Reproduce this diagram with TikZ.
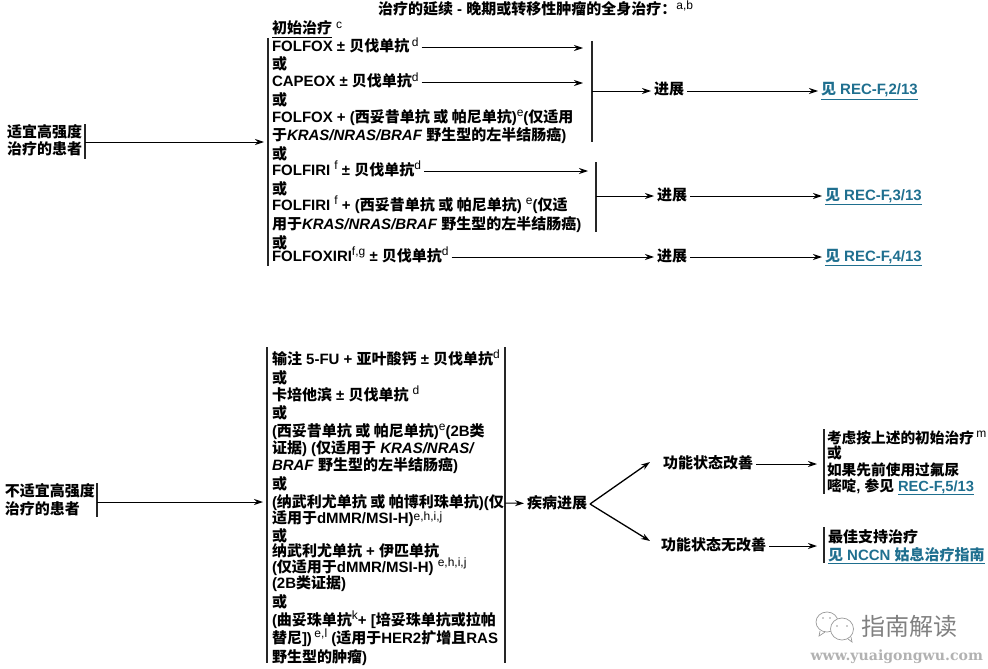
\documentclass[tikz,border=0pt]{standalone}
\usepackage{fontspec}
\setmainfont{Liberation Sans}
\newfontfamily\cjk{Noto Sans CJK SC}
\newfontfamily\wwwfont{DejaVu Serif}
\usetikzlibrary{positioning,arrows.meta}
\definecolor{linkblue}{HTML}{1F6F8F}
\newcommand{\zh}[1]{{\cjk #1}}
\newcommand{\sups}[2][5.5pt]{\raisebox{#1}{\fontsize{12}{12}\selectfont\mdseries #2}}
\newcommand{\reflink}[1]{\textcolor{linkblue}{\underline{#1}}}

\begin{document}
\begin{tikzpicture}[
  x=1pt, y=-1pt,
  txt/.style={inner sep=0pt, outer sep=3pt, anchor=base west, text height=11pt, text depth=3pt,
              font=\fontsize{15}{16}\selectfont\bfseries},
  bar/.style={draw=black!85, line width=1.2pt},
  line width=1pt,
  >={Stealth[length=9pt,width=6pt]}
]
  \useasboundingbox (0,0) rectangle (988,669);

  \node[txt] (title) at (375,15) {\zh{治疗的延续} - \zh{晚期或转移性肿瘤的全身治疗：}\sups{a,b}};
  \node[txt] (first) at (269,34) {\underline{\zh{初始治疗}} \sups{c}};

  % left column of the upper block
  \foreach \y/\ltext [count=\i] in {
    52/{FOLFOX ± \zh{贝伐单抗}\,\sups{d}},
    70/{\zh{或}},
    87/{CAPEOX ± \zh{贝伐单抗}\sups{d}},
    105/{\zh{或}},
    122/{FOLFOX + (\zh{西妥昔单抗 或 帕尼单抗})\sups{e}(\zh{仅适用}},
    140/{\zh{于}\textit{KRAS/NRAS/BRAF} \zh{野生型的左半结肠癌})},
    159/{\zh{或}},
    175/{FOLFIRI \sups{f} ± \zh{贝伐单抗}\sups{d}},
    194/{\zh{或}},
    210/{FOLFIRI \sups{f} + (\zh{西妥昔单抗 或 帕尼单抗}) \sups{e}(\zh{仅适}},
    229/{\zh{用于}\textit{KRAS/NRAS/BRAF} \zh{野生型的左半结肠癌})},
    248/{\zh{或}},
    261/{FOLFOXIRI\sups{f,g} ± \zh{贝伐单抗}\sups{d}}
  } \node[txt] (up\i) at (269,\y) {\ltext};

  % left column of the lower block
  \foreach \y/\ltext [count=\i] in {
    364/{\zh{输注} 5-FU + \zh{亚叶酸钙} ± \zh{贝伐单抗}\sups{d}},
    383/{\zh{或}},
    400/{\zh{卡培他滨} ± \zh{贝伐单抗} \sups{d}},
    418/{\zh{或}},
    436/{(\zh{西妥昔单抗 或 帕尼单抗})\sups{e}(2B\zh{类}},
    453/{\zh{证据}) (\zh{仅适用于} \textit{KRAS/NRAS/}},
    470/{\textit{BRAF} \zh{野生型的左半结肠癌})},
    489/{\zh{或}},
    507/{(\zh{纳武利尤单抗 或 帕博利珠单抗})(\zh{仅}},
    523/{\zh{适用于}dMMR/MSI-H)\sups[3pt]{e,h,i,j}},
    541/{\zh{或}},
    556/{\zh{纳武利尤单抗} + \zh{伊匹单抗}},
    572/{(\zh{仅适用于}dMMR/MSI-H) \sups{e,h,i,j}},
    588/{(2B\zh{类证据})},
    607/{\zh{或}},
    625/{(\zh{曲妥珠单抗}\sups{k}+ [\zh{培妥珠单抗或拉帕}},
    643/{\zh{替尼}])\,\sups{e,l} (\zh{适用于}HER2\zh{扩增且}RAS},
    662/{\zh{野生型的肿瘤})}
  } \node[txt] (lo\i) at (269,\y) {\ltext};

  % patients
  \node[txt] (fit1) at (4,137) {\zh{适宜高强度}};
  \node[txt] (fit2) at (4,154) {\zh{治疗的患者}};
  \node[txt] (unfit1) at (2,496) {\zh{不适宜高强度}};
  \node[txt] (unfit2) at (2,514) {\zh{治疗的患者}};

  % brackets
  \coordinate (fitT) at (85,124);   \coordinate (fitB) at (85,159);   \coordinate (fitM) at (85,142);
  \coordinate (unfitT) at (97,483); \coordinate (unfitB) at (97,517); \coordinate (unfitM) at (97,502);
  \coordinate (upT) at (268,38);    \coordinate (upB) at (268,266);   \coordinate (upM) at (264,142);
  \coordinate (loT) at (267,347);   \coordinate (loB) at (267,663);   \coordinate (loM) at (263,502);
  \coordinate (rgtT) at (505,347);  \coordinate (rgtB) at (505,663);  \coordinate (rgtM) at (505,503);
  \coordinate (g1T) at (592,41);    \coordinate (g1B) at (592,142);   \coordinate (g1M) at (592,91);
  \coordinate (g2T) at (596,162);   \coordinate (g2B) at (596,232);   \coordinate (g2M) at (596,196);
  \foreach \a/\b in {fitT/fitB, unfitT/unfitB, upT/upB, loT/loB, rgtT/rgtB, g1T/g1B, g2T/g2B}
    \draw[bar] (\a) -- (\b);
  \draw[->] (fitM) -- (upM);
  \draw[->] (unfitM) -- (loM);

  % upper block outcomes
  \node[txt] (prog1) at (651,95) {\zh{进展}};
  \node[txt] (prog2) at (654,200) {\zh{进展}};
  \node[txt] (prog3) at (654,261) {\zh{进展}};
  \node[txt, right=131pt of prog1] (see1) {\reflink{\zh{见} REC-F,2/13}};
  \node[txt, right=132pt of prog2] (see2) {\reflink{\zh{见} REC-F,3/13}};
  \node[txt, right=132pt of prog3] (see3) {\reflink{\zh{见} REC-F,4/13}};
  \draw[->] (up1.east) -- ([xshift=-9pt]up1.east -| g1T);
  \draw[->] (up3.east) -- ([xshift=-9pt]up3.east -| g1T);
  \draw[->] (up8.east) -- ([xshift=-8pt]up8.east -| g2T);
  \draw[->] (g1M) -- (prog1);
  \draw[->] (g2M) -- (prog2);
  \draw[->] (up13) -- (prog3);
  \foreach \i in {1,2,3}
    \draw[->] (prog\i) -- (see\i);

  % lower block outcomes
  \node[txt] (worse) at (524,508) {\zh{疾病进展}};
  \node[txt] (better) at (660,468) {\zh{功能状态改善}};
  \node[txt] (nobetter) at (658,550) {\zh{功能状态无改善}};
  \coordinate (c1T) at (824,429); \coordinate (c1B) at (824,494); \coordinate (c1M) at (824,464);
  \coordinate (c2T) at (824,527); \coordinate (c2B) at (824,563); \coordinate (c2M) at (824,546);
  \coordinate (tipup) at (650,462); \coordinate (tipdn) at (650,541);
  \draw[bar] (c1T) -- (c1B);
  \draw[bar] (c2T) -- (c2B);
  \foreach \y/\ltext [count=\i] in {
    443/{\zh{考虑按上述的初始治疗}\,\sups{m}},
    458/{\zh{或}},
    475/{\zh{如果先前使用过氟尿}},
    491/{\zh{嘧啶}, \zh{参见} \reflink{REC-F,5/13}}
  } \node[txt, font=\fontsize{14.7}{16}\selectfont\bfseries] (care\i) at (824,\y) {\ltext};
  \node[txt] (best1) at (825,542) {\zh{最佳支持治疗}};
  \node[txt] (best2) at (825,560) {\reflink{\zh{见} NCCN \zh{姑息治疗指南}}};
  \draw[->] (rgtM) -- (worse);
  \draw[->, line width=1.3pt] (worse.east) -- (tipup);
  \draw[->, line width=1.3pt] (worse.east) -- (tipdn);
  \draw[->] (better) -- ([xshift=-7pt]c1M);
  \draw[->] (nobetter) -- ([xshift=-7pt]c2M);

  % watermark
  \draw[black!40, line width=0.7pt] (827,622) ellipse (11pt and 10pt);
  \draw[black!40, line width=0.7pt] (820,631) -- (819,636) -- (825,632);
  \draw[black!40, line width=0.7pt, fill=white] (842,629) ellipse (11.5pt and 11pt);
  \draw[black!40, line width=0.7pt] (848,639) -- (852,642) -- (851,637);
  \foreach \a in {(837,626),(847,626),(823,618),(830,618)}
    \fill[black!40] \a circle (0.9pt);
  \node[inner sep=0pt, anchor=west, text=black!50, font=\fontsize{24}{26}\selectfont] (mark) at (861,626) {\zh{指南解读}};
  \node[inner sep=0pt, anchor=west, text=black!30, font=\fontsize{14.1}{16}\selectfont\bfseries] (site) at (810,657) {\wwwfont www.yuaigongwu.com};
\end{tikzpicture}
\end{document}
